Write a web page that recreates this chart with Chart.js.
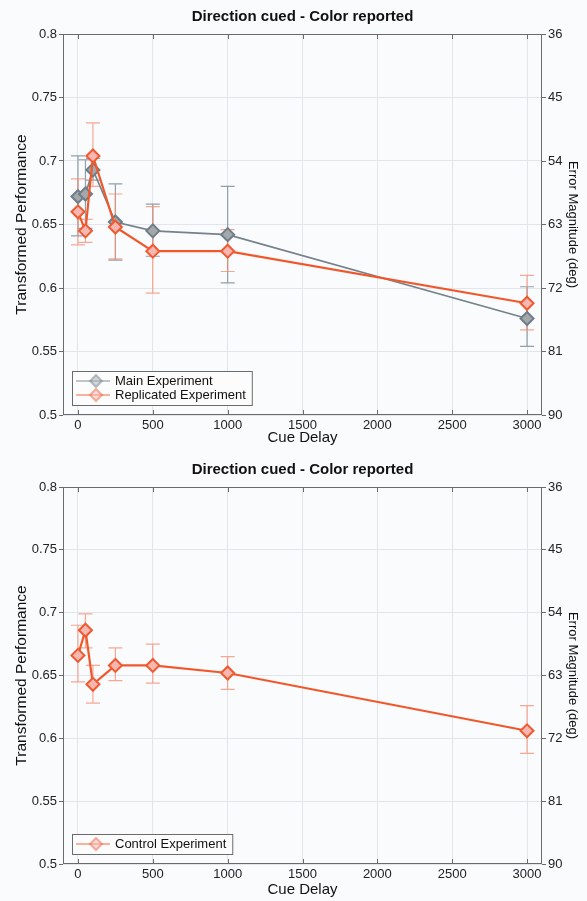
<!DOCTYPE html>
<html>
<head>
<meta charset="utf-8">
<script src="https://cdn.jsdelivr.net/npm/chart.js@4/dist/chart.umd.min.js"></script>
<style>
  html, body { margin: 0; padding: 0; background: #fafbfd; }
  #wrap { position: relative; width: 587px; height: 901px; }
  .panel { position: absolute; left: 0; width: 587px; }
</style>
</head>
<body>
<div id="wrap">
  <div class="panel" style="top:0;height:450px"><canvas id="chartTop" width="587" height="450"></canvas></div>
  <div class="panel" style="top:450px;height:451px"><canvas id="chartBottom" width="587" height="451"></canvas></div>
</div>
<script>
// Cue delays (ms)
const delays = [0, 50, 100, 250, 500, 1000, 3000];
// Tick values on the delay axis
const xTickValues = [0, 500, 1000, 1500, 2000, 2500, 3000];

// Main experiment: transformed performance and error-bar bounds
const mainPerf = [0.672, 0.674, 0.693, 0.652, 0.645, 0.642, 0.576];
const mainLow  = [0.641, 0.647, 0.685, 0.622, 0.625, 0.604, 0.554];
const mainHigh = [0.704, 0.701, 0.702, 0.682, 0.666, 0.680, 0.601];

// Replicated experiment
const replPerf = [0.660, 0.645, 0.704, 0.648, 0.629, 0.629, 0.588];
const replLow  = [0.634, 0.636, 0.680, 0.623, 0.596, 0.613, 0.567];
const replHigh = [0.686, 0.654, 0.730, 0.674, 0.664, 0.646, 0.610];

// Control experiment
const ctrlPerf = [0.666, 0.686, 0.643, 0.658, 0.658, 0.652, 0.606];
const ctrlLow  = [0.645, 0.672, 0.628, 0.646, 0.644, 0.639, 0.588];
const ctrlHigh = [0.690, 0.699, 0.658, 0.672, 0.675, 0.665, 0.626];

const panelTitle = 'Direction cued - Color reported';
const xLabel = 'Cue Delay';
const yLabel = 'Transformed Performance';
const y2Label = 'Error Magnitude (deg)';

const FONT = "'Liberation Sans', Arial, sans-serif";

const points = (vals) => vals.map((v, i) => ({ x: delays[i], y: v }));

// Vertical error bars with caps, drawn under the lines
const errorBars = {
  id: 'errorBars',
  beforeDatasetsDraw(chart) {
    const { ctx, scales: { x, y } } = chart;
    chart.data.datasets.forEach((ds) => {
      if (!ds.errLow) return;
      ctx.save();
      ctx.strokeStyle = ds.errColor;
      ctx.lineWidth = 1.2;
      ds.data.forEach((pt, j) => {
        const px = x.getPixelForValue(pt.x);
        const lo = y.getPixelForValue(ds.errLow[j]);
        const hi = y.getPixelForValue(ds.errHigh[j]);
        ctx.beginPath();
        ctx.moveTo(px, lo); ctx.lineTo(px, hi);
        ctx.moveTo(px - 7, lo); ctx.lineTo(px + 7, lo);
        ctx.moveTo(px - 7, hi); ctx.lineTo(px + 7, hi);
        ctx.stroke();
      });
      ctx.restore();
    });
  }
};

// Axis box with inward ticks on top and bottom edges
const frame = {
  id: 'frame',
  afterDatasetsDraw(chart) {
    const { ctx, chartArea: a, scales: { x } } = chart;
    ctx.save();
    ctx.strokeStyle = '#6b6b6b';
    ctx.lineWidth = 1;
    ctx.strokeRect(a.left + 0.5, a.top + 0.5, a.right - a.left - 1, a.bottom - a.top - 1);
    ctx.beginPath();
    x.ticks.forEach((t) => {
      const px = Math.round(x.getPixelForValue(t.value)) + 0.5;
      ctx.moveTo(px, a.bottom); ctx.lineTo(px, a.bottom - 5);
      ctx.moveTo(px, a.top); ctx.lineTo(px, a.top + 5);
    });
    ctx.stroke();
    ctx.restore();
  }
};

// Boxed legend in the lower-left corner of the plot
const boxLegend = {
  id: 'boxLegend',
  afterDraw(chart) {
    const { ctx, chartArea: a } = chart;
    const sets = chart.data.datasets;
    ctx.save();
    ctx.font = '13px ' + FONT;
    const textW = Math.max(...sets.map((d) => ctx.measureText(d.label).width));
    const rowH = 14;
    const w = 43 + textW + 6;
    const h = (sets.length - 1) * rowH + 20;
    const left = a.left + 9;
    const top = a.bottom - 10 - h;
    ctx.fillStyle = '#fcfcfd';
    ctx.fillRect(left, top, w, h);
    ctx.strokeStyle = '#6b6b6b';
    ctx.lineWidth = 1;
    ctx.strokeRect(left + 0.5, top + 0.5, w, h);
    sets.forEach((d, i) => {
      const cy = top + 10 + i * rowH;
      ctx.globalAlpha = 0.45;
      ctx.strokeStyle = d.borderColor;
      ctx.lineWidth = 2;
      ctx.beginPath();
      ctx.moveTo(left + 4, cy); ctx.lineTo(left + 38, cy);
      ctx.stroke();
      const mx = left + 24, r = 6;
      ctx.beginPath();
      ctx.moveTo(mx, cy - r); ctx.lineTo(mx + r, cy); ctx.lineTo(mx, cy + r); ctx.lineTo(mx - r, cy); ctx.closePath();
      ctx.fillStyle = d.pointBackgroundColor;
      ctx.fill();
      ctx.strokeStyle = d.pointBorderColor;
      ctx.stroke();
      ctx.globalAlpha = 1;
      ctx.fillStyle = '#111';
      ctx.textBaseline = 'middle';
      ctx.fillText(d.label, left + 43, cy + 0.5);
    });
    ctx.restore();
  }
};

const GRAY = { line: '#75828b', fill: '#a5a8ab', border: '#6e7d87', err: 'rgba(120,138,150,0.8)' };
const RED = { line: '#f0582c', fill: '#f7b7b1', border: '#ef5a31', err: 'rgba(245,140,110,0.75)' };

function series(label, vals, lo, hi, c, width, order) {
  return {
    label, data: points(vals), errLow: lo, errHigh: hi, errColor: c.err,
    borderColor: c.line, borderWidth: width, tension: 0,
    pointStyle: 'rectRot', pointRadius: 6.5, pointHoverRadius: 6.5,
    pointBorderWidth: 2, pointBackgroundColor: c.fill, pointBorderColor: c.border,
    order, clip: false
  };
}

function options(titlePad, xHeight, xTitlePad) {
  return {
    responsive: false,
    animation: false,
    devicePixelRatio: 1,
    layout: { padding: 0 },
    plugins: {
      legend: { display: false },
      tooltip: { enabled: false },
      title: {
        display: true, text: panelTitle, color: '#111', fullSize: false,
        font: { family: FONT, size: 15, weight: 'bold', lineHeight: 1.2 },
        padding: titlePad
      }
    },
    scales: {
      x: {
        type: 'linear', min: -100, max: 3100,
        afterFit: (s) => { s.height = xHeight; },
        afterBuildTicks: (s) => { s.ticks = xTickValues.map((v) => ({ value: v })); },
        ticks: { autoSkip: false, color: '#222', padding: 3,
                 font: { family: FONT, size: 13 }, callback: (v) => String(v), maxRotation: 0 },
        grid: { color: '#e2e5ea', drawTicks: false },
        border: { display: false },
        title: { display: true, text: xLabel, color: '#111',
                 font: { family: FONT, size: 15 }, padding: { top: 0, bottom: xTitlePad } }
      },
      y: {
        type: 'linear', position: 'left', min: 0.5, max: 0.8,
        afterFit: (s) => { s.width = 63; },
        ticks: { stepSize: 0.05, color: '#222', padding: 2,
                 font: { family: FONT, size: 13 }, callback: (v) => String(Math.round(v * 100) / 100) },
        grid: { color: '#e2e5ea', drawTicks: true, tickLength: 4, tickColor: '#6b6b6b' },
        border: { display: false },
        title: { display: true, text: yLabel, color: '#111',
                 font: { family: FONT, size: 15.5 }, padding: { top: 12.5, bottom: 0 } }
      },
      y2: {
        type: 'linear', position: 'right', min: 36, max: 90, reverse: true,
        afterFit: (s) => { s.width = 45; },
        ticks: { stepSize: 9, color: '#222', padding: 2, font: { family: FONT, size: 13 } },
        grid: { drawOnChartArea: false, drawTicks: true, tickLength: 4, tickColor: '#6b6b6b' },
        border: { display: false },
        title: { display: true, text: y2Label, color: '#111',
                 font: { family: FONT, size: 13 }, padding: { top: 7, bottom: 0 } }
      }
    }
  };
}

new Chart(document.getElementById('chartTop'), {
  type: 'line',
  data: {
    datasets: [
      series('Main Experiment', mainPerf, mainLow, mainHigh, GRAY, 1.6, 1),
      series('Replicated Experiment', replPerf, replLow, replHigh, RED, 2.2, 0)
    ]
  },
  options: options({ top: 8, bottom: 8 }, 35, 3),
  plugins: [errorBars, frame, boxLegend]
});

new Chart(document.getElementById('chartBottom'), {
  type: 'line',
  data: {
    datasets: [
      series('Control Experiment', ctrlPerf, ctrlLow, ctrlHigh, RED, 2.2, 0)
    ]
  },
  options: options({ top: 11, bottom: 8 }, 37, 2),
  plugins: [errorBars, frame, boxLegend]
});
</script>
</body>
</html>
